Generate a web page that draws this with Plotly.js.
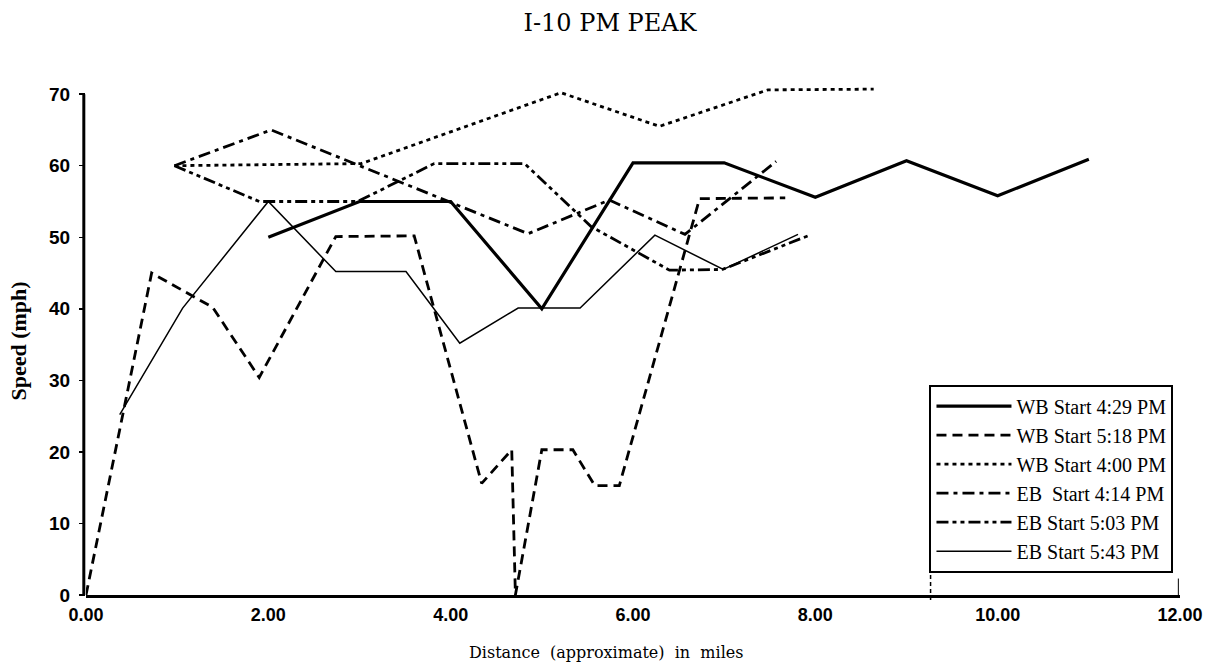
<!DOCTYPE html>
<html>
<head>
<meta charset="utf-8">
<script src="https://cdn.plot.ly/plotly-3.0.1.min.js"></script>
<style>html,body{margin:0;padding:0;background:#fff;}#chart{width:1220px;height:670px;}</style>
</head>
<body>
<div id="chart"></div>
<script>
// Series names
const seriesNames = ["WB Start 4:29 PM", "WB Start 5:18 PM", "WB Start 4:00 PM",
                     "EB  Start 4:14 PM", "EB Start 5:03 PM", "EB Start 5:43 PM"];

// Distance (miles) and speed (mph)
const wb429X = [2.0, 3.0, 4.0, 5.0, 6.0, 7.0, 8.0, 9.0, 10.0, 11.0];
const wb429Y = [50, 55, 55, 40, 60.4, 60.4, 55.6, 60.7, 55.8, 60.9];

const wb518X = [0.0, 0.72, 1.39, 1.9, 2.74, 3.6, 4.34, 4.67, 4.71, 5.0, 5.34, 5.58, 5.85, 6.73, 7.67];
const wb518Y = [0, 45, 40.2, 30.4, 50.1, 50.2, 15.6, 20.3, 0, 20.3, 20.3, 15.3, 15.3, 55.4, 55.5];

const wb400X = [0.97, 3.02, 5.21, 6.29, 7.48, 8.64];
const wb400Y = [60, 60.3, 70.2, 65.5, 70.6, 70.7];

const eb414X = [0.97, 2.03, 4.85, 5.74, 6.57, 7.57];
const eb414Y = [60, 65, 50.5, 55.2, 50.4, 60.6];

const eb503X = [0.97, 1.9, 2.98, 3.82, 4.81, 5.54, 6.4, 6.98, 7.94];
const eb503Y = [60, 55, 55, 60.3, 60.3, 51.5, 45.4, 45.5, 50.3];

const eb543X = [0.37, 1.06, 2.0, 2.74, 3.51, 4.1, 4.74, 5.42, 6.24, 6.99, 7.81];
const eb543Y = [25.2, 40.1, 55, 45.2, 45.2, 35.2, 40.1, 40.1, 50.3, 45.5, 50.4];

const xTickVals = [0, 2, 4, 6, 8, 10, 12];
const xTickText = ["0.00", "2.00", "4.00", "6.00", "8.00", "10.00", "12.00"];
const yTickVals = [0, 10, 20, 30, 40, 50, 60, 70];

const xs = [wb429X, wb518X, wb400X, eb414X, eb503X, eb543X];
const ys = [wb429Y, wb518Y, wb400Y, eb414Y, eb503Y, eb543Y];
const dashes = ["solid", "10px,6px", "4px,4px", "12px,5px,4px,5px", "12px,4px,4px,4px,4px,4px", "solid"];
const widths = [3.2, 2.8, 2.8, 2.8, 2.8, 1.5];

const traces = seriesNames.map((n, i) => ({
  type: "scatter", mode: "lines", name: n,
  x: xs[i], y: ys[i], legendgroup: "g" + i,
  line: {color: "#000", width: widths[i], dash: dashes[i]},
  hoverinfo: "skip"
}));

const layout = {
  width: 1220, height: 670,
  paper_bgcolor: "#fff", plot_bgcolor: "#fff",
  margin: {l: 86, r: 40, t: 87, b: 75},
  title: {text: "I-10\u00A0PM\u00A0PEAK", x: 0.5, xanchor: "center", xref: "container",
          y: 0.967, yref: "container", yanchor: "middle",
          font: {family: "DejaVu Serif", size: 24, color: "#000"}},
  xaxis: {range: [0, 12], tickvals: xTickVals, ticktext: xTickText,
          showgrid: false, zeroline: false, showline: true, linecolor: "#000", linewidth: 3,
          ticks: "", ticklabelstandoff: 1,
          tickfont: {family: "Liberation Sans", size: 18, color: "#000", weight: "bold"}},
  yaxis: {range: [0, 71], tickvals: yTickVals, showgrid: false, zeroline: false, showline: false,
          ticks: "outside", ticklen: 6, tickwidth: 1.5, tickcolor: "#000", ticklabelstandoff: 5,
          tickfont: {family: "Liberation Sans", size: 19, color: "#000", weight: "bold"},
          title: {text: "Speed (mph)", standoff: 16,
                  font: {family: "Liberation Serif", size: 22, color: "#000", weight: "bold"}}},
  annotations: [
    {text: "Distance\u00A0\u00A0(approximate)\u00A0\u00A0in\u00A0\u00A0miles", showarrow: false,
     xref: "paper", yref: "paper", x: 0.475, y: -0.113, xanchor: "center", yanchor: "middle",
     font: {family: "DejaVu Serif", size: 16, color: "#000"}}
  ],
  shapes: [
    {type: "line", xref: "paper", yref: "y", x0: -0.002, x1: -0.002, y0: 0, y1: 70,
     line: {color: "#000", width: 3}},
    {type: "line", xref: "paper", yref: "y", x0: 0.9985, x1: 0.9985, y0: 0, y1: 2.3,
     line: {color: "#000", width: 1}},
    {type: "line", xref: "paper", yref: "paper", x0: 0.772, x1: 0.772, y0: -0.01, y1: 0.06,
     line: {color: "#000", width: 1.5, dash: "4px,3px"}}
  ],
  showlegend: true,
  legend: {x: 0.771, xanchor: "left", y: 0.414, yanchor: "top",
           bgcolor: "#fff", bordercolor: "#000", borderwidth: 2,
           itemwidth: 75, tracegroupgap: 1, traceorder: "normal",
           font: {family: "Liberation Serif", size: 20, color: "#000"}}
};

Plotly.newPlot("chart", traces, layout, {displayModeBar: false, staticPlot: true});
</script>
</body>
</html>
